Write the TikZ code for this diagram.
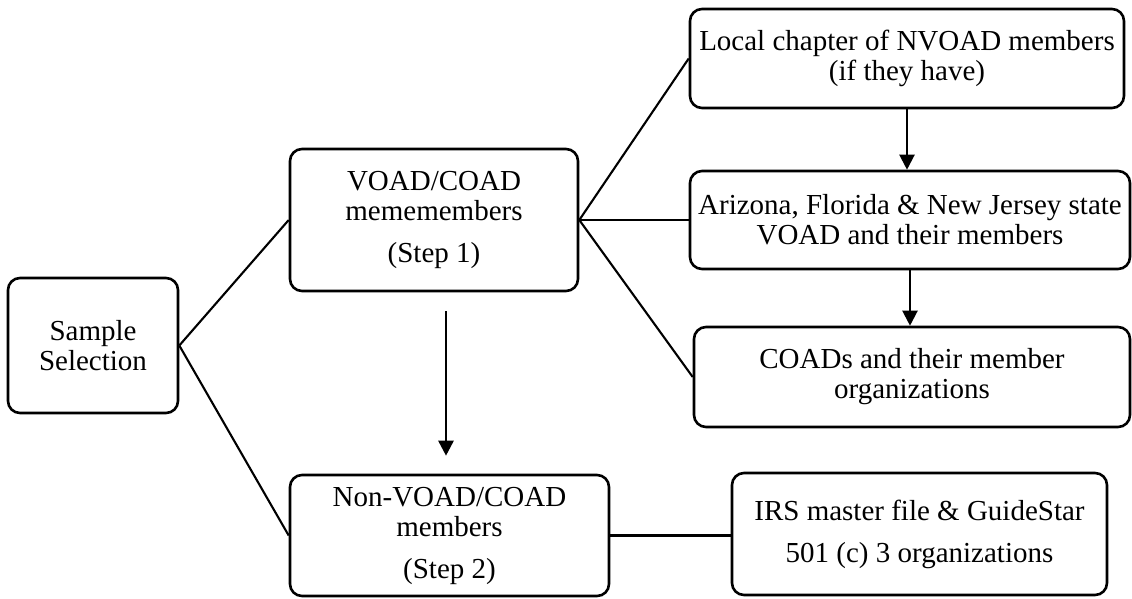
\documentclass[tikz,border=0pt]{standalone}
\usepackage{fontspec}
\setmainfont{Liberation Serif}
\usetikzlibrary{arrows.meta,calc}

\begin{document}
\begin{tikzpicture}[x=1pt,y=-1pt,
  box/.style={draw,line width=2.6pt,rounded corners=12pt,align=center,
    inner sep=2pt,font=\fontsize{29}{30}\selectfont},
  link/.style={line width=2.1pt},
  flow/.style={line width=2.2pt,-{Triangle[width=15pt,length=15pt]}}]
\useasboundingbox (0,0) rectangle (1132,598);

% boxes
\node[box,minimum width=170pt,minimum height=135pt] (S) at (93,345.5)
  {Sample\\Selection};
\node[box,minimum width=288pt,minimum height=142pt] (V) at (434,220)
  {VOAD/COAD\\mememembers\\[12pt](Step 1)};
\node[box,minimum width=434pt,minimum height=99pt] (L) at (907,58.5)
  {Local chapter of NVOAD members\\(if they have)};
\node[box,minimum width=440pt,minimum height=98pt] (A) at (910,220)
  {Arizona, Florida \& New Jersey state\\VOAD and their members};
\node[box,minimum width=436pt,minimum height=100pt] (C) at (912,377)
  {COADs and their member\\organizations};
\node[box,minimum width=319pt,minimum height=121pt] (N) at (449.5,535.5)
  {Non-VOAD/COAD\\members\\[12pt](Step 2)};
\node[box,minimum width=375pt,minimum height=122pt] (I) at (919.5,534)
  {IRS master file \& GuideStar\\[12pt]501 (c) 3 organizations};

% branches
\draw[link] (S.east) -- (V.west);
\draw[link] (S.east) -- (N.west);
\draw[link] (V.east) -- (L.west);
\draw[link] (V.east) -- (A.west);
\draw[link] (V.east) -- (C.west);
\draw[link] (N.east) -- (N.east -| I.west);

% sequence arrows
\draw[flow] (L.south) -- (L.south |- A.north);
\draw[flow] (A.south) -- (A.south |- C.north);
\draw[flow,line width=2.6pt,shorten <=19pt,shorten >=18pt]
  ([xshift=12pt]V.south) -- ([xshift=12pt]V.south |- N.north);
\end{tikzpicture}
\end{document}
